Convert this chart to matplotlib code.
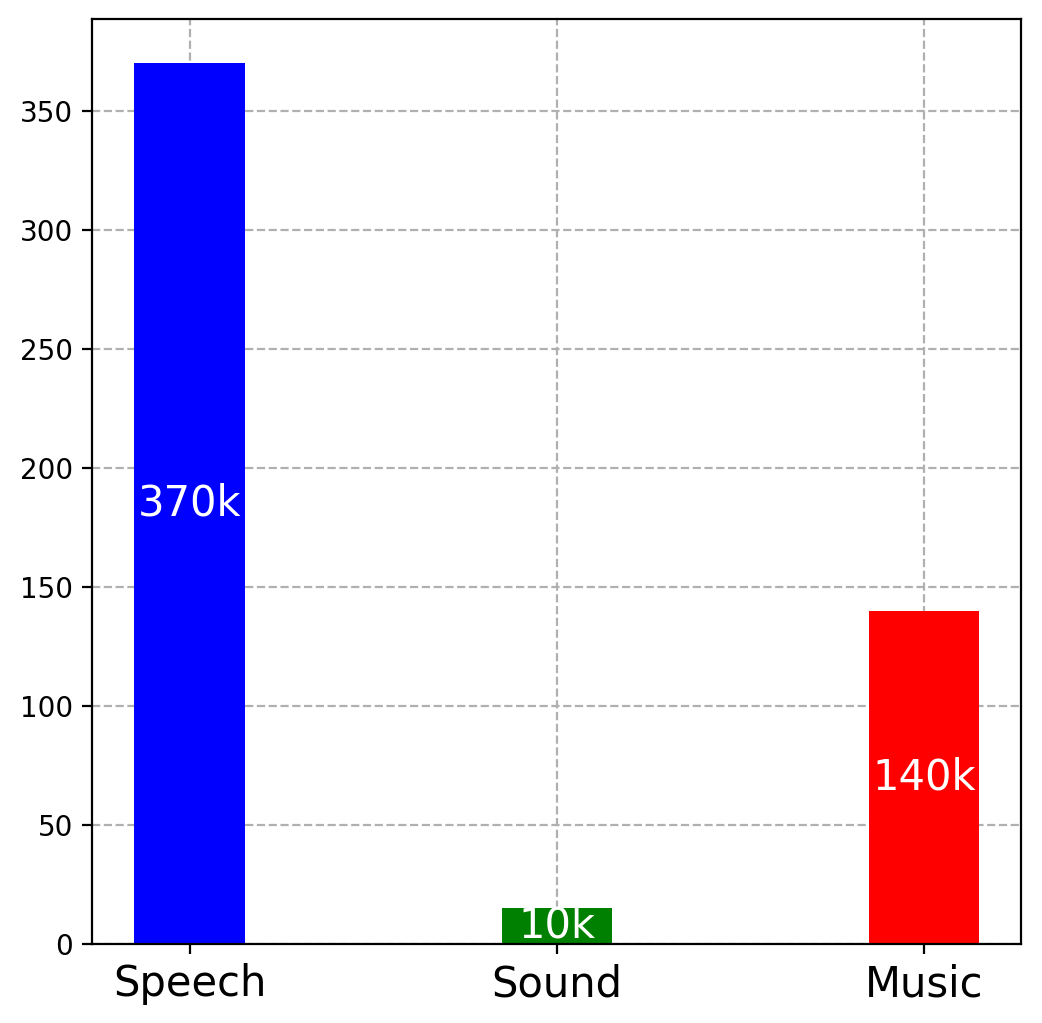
import matplotlib
matplotlib.use("Agg")
import matplotlib.pyplot as plt

categories = ["Speech", "Sound", "Music"]
hours = [370, 15, 140]
bar_labels = ["370k", "10k", "140k"]
colors = ["blue", "green", "red"]

fig = plt.figure(figsize=(5.21, 5.115), dpi=200)
ax = fig.add_axes([0.0885, 0.0775, 0.8915, 0.9035])

x = range(len(categories))
bars = ax.bar(x, hours, width=0.3, color=colors, zorder=2)
for b, lab in zip(bars, bar_labels):
    ax.text(b.get_x() + b.get_width() / 2, b.get_height() / 2, lab,
            ha="center", va="center", color="white", fontsize=15, zorder=3)

ax.set_xticks(list(x))
ax.set_xticklabels(categories, fontsize=15)
ax.tick_params(axis="y", labelsize=10)
ax.grid(True, linestyle="--", color="#b0b0b0", linewidth=0.8, zorder=0)
ax.set_axisbelow(True)

fig.savefig("out.png", dpi=200)
